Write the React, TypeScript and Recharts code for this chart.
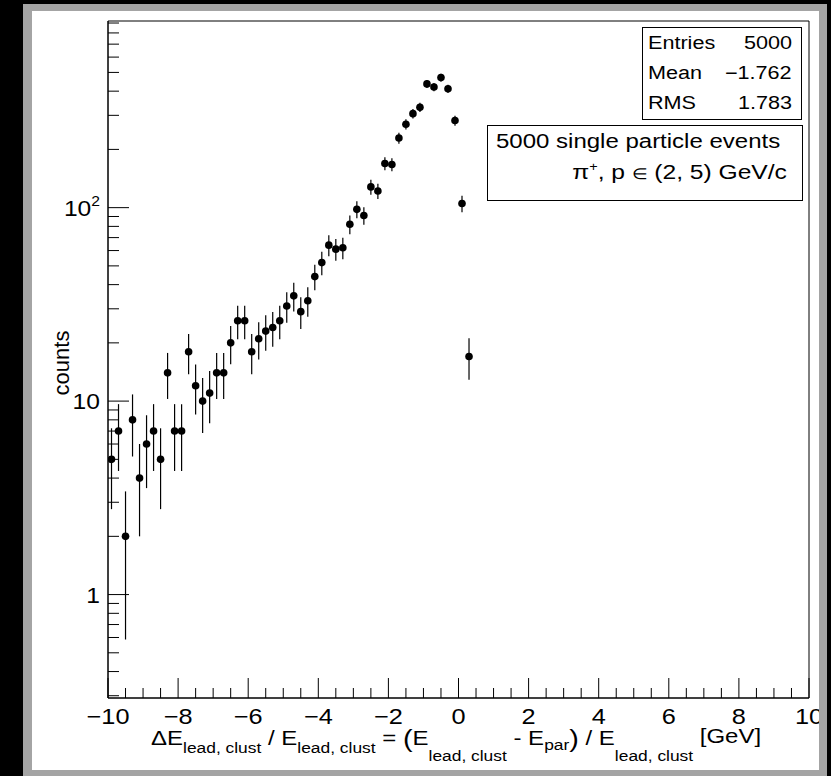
import React from "react";
import { ScatterChart, Scatter, XAxis, YAxis, ErrorBar, ReferenceArea } from "recharts";

// bin centres (0.2 wide bins) and counts
const binCenters = [
  -9.9, -9.7, -9.5, -9.3, -9.1, -8.9, -8.7, -8.5, -8.3, -8.1,
  -7.9, -7.7, -7.5, -7.3, -7.1, -6.9, -6.7, -6.5, -6.3, -6.1,
  -5.9, -5.7, -5.5, -5.3, -5.1, -4.9, -4.7, -4.5, -4.3, -4.1,
  -3.9, -3.7, -3.5, -3.3, -3.1, -2.9, -2.7, -2.5, -2.3, -2.1,
  -1.9, -1.7, -1.5, -1.3, -1.1, -0.9, -0.7, -0.5, -0.3, -0.1,
  0.1, 0.3,
];
const counts = [
  5, 7, 2, 8, 4, 6, 7, 5, 14, 7,
  7, 18, 12, 10, 11, 14, 14, 20, 26, 26,
  18, 21, 23, 24, 26, 31, 35, 29, 33, 44,
  52, 64, 61, 62, 82, 98, 91, 128, 122, 169,
  167, 229, 270, 306, 330, 436, 420, 470, 412, 282,
  105, 17,
];

const xTicks = [
  -10, -9.5, -9, -8.5, -8, -7.5, -7, -6.5, -6, -5.5, -5, -4.5, -4, -3.5, -3, -2.5,
  -2, -1.5, -1, -0.5, 0, 0.5, 1, 1.5, 2, 2.5, 3, 3.5, 4, 4.5, 5, 5.5, 6, 6.5, 7,
  7.5, 8, 8.5, 9, 9.5, 10,
];
const xMajor = [-10, -8, -6, -4, -2, 0, 2, 4, 6, 8, 10];
const yTicks = [
  0.3, 0.4, 0.5, 0.6, 0.7, 0.8, 0.9, 1, 2, 3, 4, 5, 6, 7, 8, 9, 10,
  20, 30, 40, 50, 60, 70, 80, 90, 100, 200, 300, 400, 500, 600, 700, 800, 900,
];
const yMajor = [1, 10, 100];

const statRows = [
  ["Entries", "5000"],
  ["Mean", "\u22121.762"],
  ["RMS", "1.783"],
];

const FONT = "'Liberation Sans', Arial, Helvetica, sans-serif";
const W = 831;
const H = 776;
const STRETCH = 1.2; // ROOT's text renders wider than plain Helvetica

const table = binCenters.map((x, i) => ({ x, n: counts[i], err: Math.sqrt(counts[i]) }));

const fmtX = (v: number) => (v < 0 ? `\u2212${Math.abs(v)}` : String(v));

function XTick({ x, y, payload }: any) {
  const v = payload.value;
  const major = xMajor.includes(v);
  return (
    <g>
      <line x1={x} x2={x} y1={y} y2={y - (major ? 20 : 10)} stroke="#000" strokeWidth={1} />
      {major && (
        <text
          transform={`translate(${x},${y + 26}) scale(1.15,1)`}
          textAnchor="middle"
          fontFamily={FONT}
          fontSize={22}
          fill="#000"
        >
          {fmtX(v)}
        </text>
      )}
    </g>
  );
}

function YTick({ x, y, payload }: any) {
  const v = payload.value;
  const major = yMajor.includes(v);
  return (
    <g>
      <line x1={x} x2={x + (major ? 21 : 11)} y1={y} y2={y} stroke="#000" strokeWidth={1} />
      {major && (
        <text
          transform={`translate(${x - 8},${y + 8}) scale(1.12,1)`}
          textAnchor="end"
          fontFamily={FONT}
          fontSize={22}
          fill="#000"
        >
          {v === 100 ? (
            <>
              10<tspan fontSize={14} dy={-10}>2</tspan>
            </>
          ) : (
            String(v)
          )}
        </text>
      )}
    </g>
  );
}

const dot = (p: any) => <circle cx={p.cx} cy={p.cy} r={3.8} fill="#000" />;

function XTitle({ viewBox }: any) {
  const x0 = (viewBox?.x ?? 108) + 43;
  const b = (viewBox?.y ?? 698) + 47;
  const sub = { fontSize: 14.5 };
  const par = { fontSize: 24 };
  return (
    <text transform={`translate(${x0},${b}) scale(${STRETCH},1)`} fontFamily={FONT} fontSize={20} fill="#000">
      <tspan>{"\u0394E"}</tspan>
      <tspan {...sub} dy={8}>lead, clust</tspan>
      <tspan dy={-8}>{" / E"}</tspan>
      <tspan {...sub} dy={8}>lead, clust</tspan>
      <tspan dy={-8}>{" = "}</tspan>
      <tspan {...par} dy={2}>(</tspan>
      <tspan dy={-2}>E</tspan>
      <tspan {...sub} dy={16}>lead, clust</tspan>
      <tspan dy={-16}>{" - E"}</tspan>
      <tspan {...sub} dy={5}>par</tspan>
      <tspan {...par} dy={-3}>)</tspan>
      <tspan dy={-2}>{" / E"}</tspan>
      <tspan {...sub} dy={16}>lead, clust</tspan>
      <tspan dy={-18}>{" [GeV]"}</tspan>
    </text>
  );
}

function YTitle({ viewBox }: any) {
  const cx = (viewBox?.x ?? 28) + 33;
  const cy = (viewBox?.y ?? 21) + 342;
  return (
    <text
      transform={`translate(${cx},${cy}) rotate(-90)`}
      textAnchor="middle"
      dy={8}
      fontFamily={FONT}
      fontSize={22}
      fill="#000"
    >
      counts
    </text>
  );
}

const wide = (origin: "left" | "right"): React.CSSProperties => ({
  display: "inline-block",
  transform: `scaleX(${STRETCH})`,
  transformOrigin: `${origin} center`,
  whiteSpace: "nowrap",
});

export default function App() {
  return (
    <div style={{ position: "absolute", left: 0, top: 0, width: W, height: H, background: "#000", overflow: "hidden" }}>
      <div style={{ position: "absolute", left: 23, top: 4, width: 804, height: 772, background: "#a4a4a4" }} />
      <div style={{ position: "absolute", left: 32, top: 11, width: 787, height: 759, background: "#fff", overflow: "hidden" }}>
        <div style={{ position: "absolute", left: -32, top: -11, width: W, height: H }}>
          <ScatterChart width={W} height={H} margin={{ top: 21, right: 22, bottom: 18, left: 28 }}>
            <XAxis
              type="number"
              dataKey="x"
              domain={[-10, 10]}
              allowDataOverflow
              ticks={xTicks}
              interval={0}
              tickSize={0}
              tickMargin={0}
              tickLine={false}
              axisLine={{ stroke: "#000" }}
              tick={<XTick />}
              height={60}
              label={XTitle}
            />
            <YAxis
              type="number"
              dataKey="n"
              scale="log"
              domain={[0.292, 922]}
              allowDataOverflow
              ticks={yTicks}
              interval={0}
              tickSize={0}
              tickMargin={0}
              tickLine={false}
              axisLine={{ stroke: "#000" }}
              tick={<YTick />}
              width={80}
              label={YTitle}
            />
            <ReferenceArea x1={-10} x2={10} y1={0.292} y2={922} fill="none" stroke="#000" strokeWidth={1} ifOverflow="visible" />
            <Scatter data={table} dataKey="n" fill="#000" shape={dot} isAnimationActive={false}>
              <ErrorBar dataKey="err" direction="y" width={0} stroke="#000" strokeWidth={1.2} />
            </Scatter>
          </ScatterChart>

          <div
            style={{
              position: "absolute", left: 642, top: 27, width: 160, height: 93, boxSizing: "border-box",
              border: "1px solid #000", background: "#fff", fontFamily: FONT, fontSize: 18, color: "#000",
            }}
          >
            {statRows.map(([k, v]) => (
              <div key={k} style={{ height: 30.4, display: "flex", justifyContent: "space-between", alignItems: "center", padding: "0 9px 0 5px" }}>
                <span style={wide("left")}>{k}</span>
                <span style={wide("right")}>{v}</span>
              </div>
            ))}
          </div>

          <div
            style={{
              position: "absolute", left: 487, top: 125, width: 316, height: 76, boxSizing: "border-box",
              border: "1px solid #000", background: "#fff", fontFamily: FONT, fontSize: 20, color: "#000",
            }}
          >
            <div style={{ height: 31, lineHeight: "30px", paddingLeft: 8 }}>
              <span style={wide("left")}>5000 single particle events</span>
            </div>
            <div style={{ height: 31, lineHeight: "30px", textAlign: "right", paddingRight: 15 }}>
              <span style={{ ...wide("right"), fontSize: 20.5 }}>
                {"\u03c0"}
                <span style={{ fontSize: 12, position: "relative", top: -8 }}>+</span>, p{" "}
                <span style={{ fontSize: 15 }}>{"\u2208"}</span> (2, 5) GeV/c
              </span>
            </div>
          </div>
        </div>
      </div>
    </div>
  );
}
